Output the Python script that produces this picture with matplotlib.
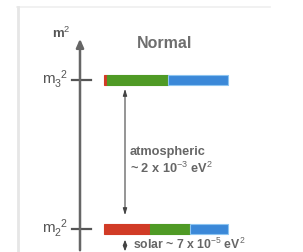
import matplotlib.pyplot as plt
import numpy as np

plt.rcParams['font.family'] = ['Liberation Sans', 'DejaVu Sans']
plt.rcParams['mathtext.fontset'] = 'custom'
plt.rcParams['mathtext.rm'] = 'Liberation Sans'
plt.rcParams['mathtext.it'] = 'Liberation Sans'

# mass states and their flavour content (e, mu, tau)
levels = [r"m$_3^{\ \ 2}$", r"m$_2^{\ \ 2}$"]
level_y = [80, 228.5]
flavour_frac = [
    [0.025, 0.49, 0.485],
    [0.37, 0.32, 0.31],
]
flavour_colors = ["#d13b26", "#4f9a25", "#3b88d8"]
flavour_edges = ["#d13b26", "#4f9a25", "#8cc4f0"]

atm_text = "atmospheric\n~ 2 x 10$^{-3}$ eV$^2$"
sol_text = "solar ~ 7 x 10$^{-5}$ eV$^2$"

fig = plt.figure(figsize=(3.03, 2.52), dpi=100)
ax = fig.add_axes([0, 0, 1, 1])
ax.set_xlim(0, 303)
ax.set_ylim(252, 0)
ax.axis("off")

# card frame
ax.plot([17, 270], [7, 7], color="#efefef", lw=1.2)
ax.plot([18, 18], [7, 252], color="#e6e6e6", lw=2)

# vertical mass axis
axis_x = 80
ax.annotate("", xy=(axis_x, 36), xytext=(axis_x, 253),
            arrowprops=dict(arrowstyle="-|>,head_length=0.5,head_width=0.22",
                            color="#666666", lw=1.8))
ax.text(axis_x - 9, 33, r"m$^2$", ha="right", va="center", fontsize=9.5,
        color="#555555", fontweight="bold")

bar_left = 104
bar_len = 124
for name, y, fracs in zip(levels, level_y, flavour_frac):
    ax.plot([72, 91], [y, y], color="#555555", lw=1.6)
    ax.text(68, y, name, ha="right", va="center", fontsize=11, color="#555555")
    left = bar_left
    for f, c, ec in zip(fracs, flavour_colors, flavour_edges):
        ax.barh(y, f * bar_len, left=left, height=10, color=c,
                edgecolor=ec, linewidth=0.8)
        left += f * bar_len

ax.text(165, 43, "Normal", ha="center", va="center", fontsize=11.5,
        fontweight="bold", color="#6e6e6e")

# mass splittings
ax.annotate("", xy=(125, 86), xytext=(125, 218),
            arrowprops=dict(arrowstyle="<|-|>,head_length=0.4,head_width=0.12",
                            color="#444444", lw=0.8))
ax.text(130, 161, atm_text, ha="left", va="center", fontsize=9.2,
        color="#666666", fontweight="bold", linespacing=1.25)

ax.annotate("", xy=(125, 237), xytext=(125, 254),
            arrowprops=dict(arrowstyle="<|-|>,head_length=0.3,head_width=0.12",
                            color="#444444", lw=0.8))
ax.text(133, 244, sol_text, ha="left", va="center", fontsize=8.8,
        color="#666666", fontweight="bold")

fig.savefig("out.png", dpi=100)
